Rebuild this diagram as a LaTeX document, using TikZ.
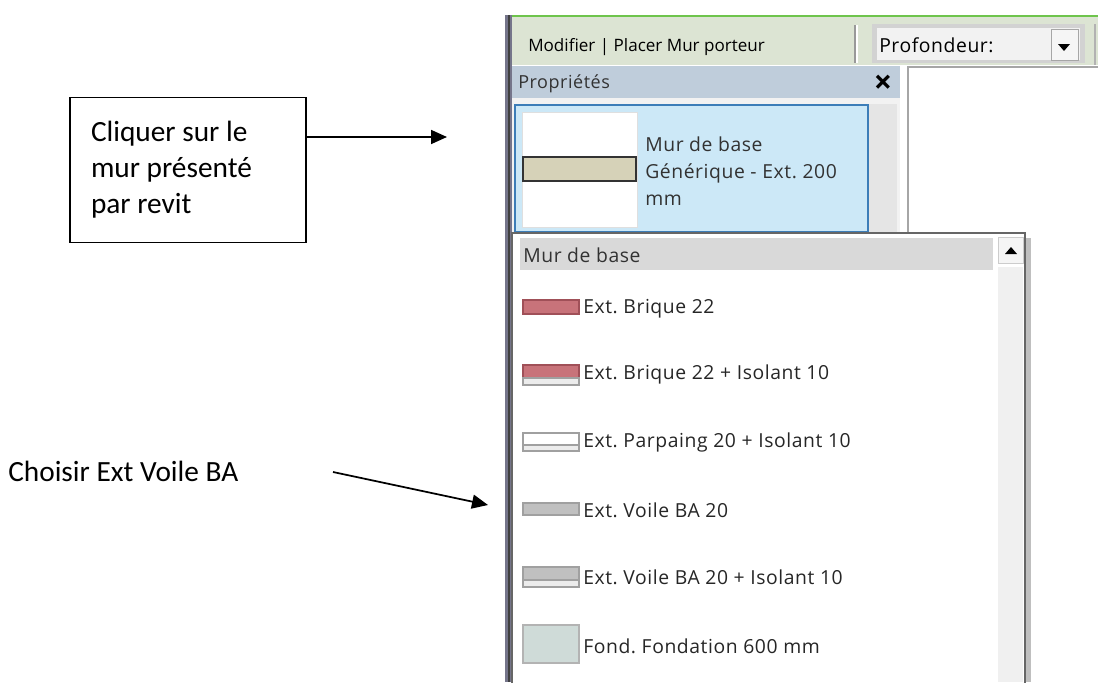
\documentclass[tikz,border=0pt]{standalone}
\usepackage{fontspec}
\setmainfont{Carlito}
\newfontfamily\uifont{Open Sans}
\newfontfamily\listfont[LetterSpace=3]{Open Sans}
\usetikzlibrary{arrows.meta,positioning}
\frenchspacing
\definecolor{barvert}{RGB}{110,196,76}
\definecolor{fondbarre}{RGB}{220,228,211}
\definecolor{fondentete}{RGB}{191,205,219}
\definecolor{fondselect}{RGB}{204,232,247}
\definecolor{bordselect}{RGB}{60,125,184}
\definecolor{brique}{RGB}{200,115,122}
\definecolor{bordbrique}{RGB}{160,80,88}
\definecolor{beton}{RGB}{192,192,192}
\definecolor{bordbeton}{RGB}{160,160,160}
\definecolor{fondation}{RGB}{207,219,216}
\definecolor{beige}{RGB}{214,210,184}
\definecolor{texteui}{RGB}{50,50,50}
\tikzset{
  note/.style={font=\fontsize{22}{27}\selectfont, align=flush left, inner sep=0pt},
  notebox/.style={note, draw, thick, inner xsep=15.75pt, text width=145.5pt, minimum height=108.75pt},
  arrow/.style={-{Triangle[length=12pt,width=10.5pt]}, line width=1.3pt},
  ui/.style={font=\listfont\fontsize{14.5}{20.5}\selectfont, text=texteui, anchor=west, inner sep=0pt, align=flush left},
  swatch/.style={line width=0.8pt},
}
\begin{document}
\begin{tikzpicture}[x=0.75pt, y=-0.75pt]
  \useasboundingbox (0,0) rectangle (1098,682);

  % barre d'outils
  \fill[fondbarre] (512,16) rectangle (1098,65);
  \draw[barvert, line width=1.5pt] (505,15.5) -- (1098,15.5);
  \draw[gray!80, line width=1pt] (855,25) -- (855,63);
  \draw[white, line width=1pt] (857,25) -- (857,63);
  \fill[gray!35] (872,24) rectangle (1085,63);
  \fill[gray!10] (877,28) rectangle (1080,60);
  \node[ui, text=black] (profondeur) at (879,45) {Profondeur:};
  \draw[gray!70, fill=gray!8] (1051,29) rectangle (1078,60);
  \fill[black] (1058,44) -- (1070,44) -- (1064,51) -- cycle;
  \draw[gray!60, line width=1pt] (1095,24) -- (1095,65);
  \node[ui, font=\uifont\fontsize{12.8}{15}\selectfont, text=black] (titre) at (528,47) {Modifier | Placer Mur porteur};

  % bord gauche
  \fill[gray!60!blue!20!gray] (505,15) rectangle (512,682);
  \draw[gray!50!black, line width=1pt] (509,15) -- (509,682);

  % palette des proprietes
  \fill[fondentete] (512,66) rectangle (900,98);
  \node[ui, font=\listfont\fontsize{13.5}{16}\selectfont, text=gray!40!black] (proprietes) at (518,84) {Propriétés};
  \node[font=\uifont\bfseries\fontsize{24}{24}\selectfont, inner sep=0pt] (fermer) at (883,84) {×};
  \fill[gray!10] (512,98) rectangle (900,233);
  \fill[gray!20] (868,104) rectangle (897,233);
  \draw[gray!70, line width=1.5pt] (908,233) -- (908,67) -- (1098,67);

  % type de mur
  \draw[bordselect, fill=fondselect, line width=1.5pt] (515,105) rectangle (868,232);
  \draw[gray!25, fill=white] (522,112) rectangle (637,227);
  \draw[black!80, fill=beige, line width=0.8pt] (523,157) rectangle (636,181);
  \node[ui] (typemur) at (645,171) {Mur de base\\Générique - Ext. 200\\mm};

  % liste deroulante
  \fill[gray!50] (1025,238) rectangle (1031,682);
  \draw[gray!80!black, fill=white, line width=1.5pt] (512,233) rectangle (1025,690);
  \fill[gray!30] (520,238) rectangle (993,270);
  \node[ui] (famille) at (523,255) {Mur de base};
  \fill[gray!12] (998,267) rectangle (1023,682);
  \draw[gray!40, fill=gray!8] (998,237) rectangle (1023,263);
  \fill[black] (1005,254) -- (1017,254) -- (1011,247) -- cycle;

  % echantillons
  \draw[swatch, bordbrique, fill=brique] (523,300) rectangle (579,314);
  \draw[swatch, bordbrique, fill=brique] (523,365) rectangle (579,378);
  \draw[swatch, bordbeton, fill=gray!15] (523,378) rectangle (579,385);
  \draw[swatch, bordbeton, fill=white] (523,433) rectangle (579,445);
  \draw[swatch, bordbeton, fill=gray!15] (523,445) rectangle (579,451);
  \draw[swatch, bordbeton, fill=beton] (523,503) rectangle (579,515);
  \draw[swatch, bordbeton, fill=beton] (523,567) rectangle (579,580);
  \draw[swatch, bordbeton, fill=gray!15] (523,580) rectangle (579,587);
  \draw[swatch, bordbeton!80, fill=fondation] (523,625) rectangle (579,663);
  \foreach \y/\nom/\texte in {309/brique/Ext. Brique 22,
      374/briqueiso/Ext. Brique 22 + Isolant 10,
      442/parpaing/Ext. Parpaing 20 + Isolant 10,
      510/voile/Ext. Voile BA 20,
      577/voileiso/Ext. Voile BA 20 + Isolant 10,
      646/fond/Fond. Fondation 600 mm}
    \node[ui, text=black!85] (\nom) at (583,\y) {\texte};

  % annotations
  \node[notebox] (cliquer) at (188,170) {Cliquer sur le\\mur présenté\\par revit};
  \coordinate (cible1) at (447,137);
  \draw[arrow] (cliquer.east |- cible1) -- (cible1);

  \node[note, anchor=west] (choisir) at (8,471) {Choisir Ext Voile BA};
  \coordinate (depart2) at (333,472);
  \coordinate (cible2) at (488,505);
  \draw[arrow] (depart2) -- (cible2);
\end{tikzpicture}
\end{document}
